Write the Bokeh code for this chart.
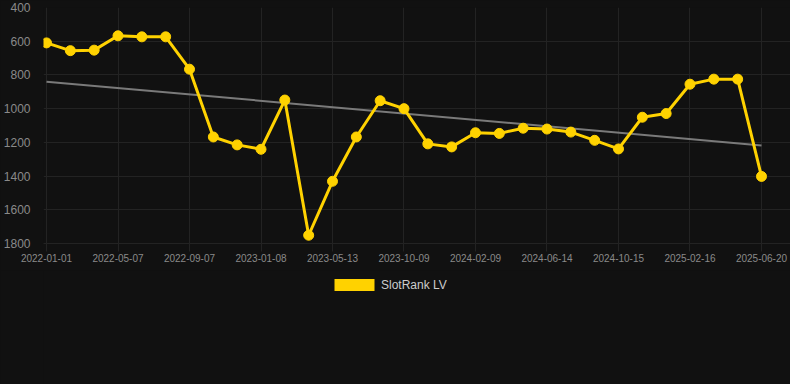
from bokeh.plotting import figure
from bokeh.layouts import column
from bokeh.models import Range1d, FixedTicker, Legend, LegendItem, ColumnDataSource
from bokeh.embed import file_html
from bokeh.resources import INLINE

# ---- data ----
tick_labels = ["2022-01-01", "2022-05-07", "2022-09-07", "2023-01-08", "2023-05-13",
               "2023-10-09", "2024-02-09", "2024-06-14", "2024-10-15", "2025-02-16",
               "2025-06-20"]
tick_positions = [0, 3, 6, 9, 12, 15, 18, 21, 24, 27, 30]
point_index = [0, 1, 2, 3, 4, 5, 6, 7, 8, 9, 10, 11, 12, 13, 14, 15, 16, 17, 18, 19,
               20, 21, 22, 23, 24, 25, 26, 27, 28, 29, 30]
rank_lv = [610, 656, 653, 568, 574, 574, 766, 1168, 1215, 1241, 949, 1751, 1431, 1168,
           953, 1000, 1209, 1227, 1143, 1147, 1116, 1121, 1139, 1188, 1239, 1051, 1029,
           855, 825, 825, 1402]
trend_index = [0, 30]
trend_values = [840, 1218]
y_ticks = [400, 600, 800, 1000, 1200, 1400, 1600, 1800]
series_name = "SlotRank LV"

BG = "#111111"
GOLD = "#FFD200"
GRID = "#232323"
LABEL = "#8a8a8a"
FONT = "Liberation Sans"

p = figure(width=790, height=270, output_backend="svg", toolbar_location=None,
           x_range=Range1d(-0.126, 31.217), y_range=Range1d(1800, 400),
           min_border_left=43, min_border_right=0, min_border_top=7, min_border_bottom=27)
p.background_fill_color = BG
p.border_fill_color = BG
p.outline_line_color = None

# axes
p.xaxis.ticker = FixedTicker(ticks=tick_positions)
p.xaxis.major_label_overrides = {t: l for t, l in zip(tick_positions, tick_labels)}
p.xaxis.major_tick_out = 8
p.xaxis.major_tick_in = 0
p.xaxis.major_tick_line_color = GRID
p.xaxis.minor_tick_line_color = None
p.xaxis.axis_line_color = GRID
p.xaxis.major_label_standoff = 2
p.xaxis.major_label_text_font_size = "10px"
p.xaxis.major_label_text_color = LABEL
p.xaxis.major_label_text_font = FONT

p.yaxis.ticker = FixedTicker(ticks=y_ticks)
p.yaxis.major_tick_line_color = None
p.yaxis.minor_tick_line_color = None
p.yaxis.axis_line_color = None
p.yaxis.major_label_standoff = 7
p.yaxis.major_label_text_font_size = "12px"
p.yaxis.major_label_text_color = LABEL
p.yaxis.major_label_text_font = FONT

p.xgrid.grid_line_color = GRID
p.ygrid.grid_line_color = GRID

# trend
p.line(trend_index, trend_values, line_color="#7a7a7a", line_width=2)

# series
src = ColumnDataSource(dict(x=point_index, y=rank_lv))
p.line("x", "y", source=src, line_color=GOLD, line_width=3)
p.scatter("x", "y", source=src, size=10, fill_color=GOLD, line_color=GOLD)

# legend strip below the chart
p2 = figure(width=790, height=114, output_backend="svg", toolbar_location=None,
            x_range=Range1d(0, 1), y_range=Range1d(0, 1),
            x_axis_location=None, y_axis_location=None,
            min_border_left=43, min_border_right=0, min_border_top=0, min_border_bottom=0)
p2.background_fill_color = BG
p2.border_fill_color = BG
p2.outline_line_color = None
p2.grid.visible = False
# off-screen helper glyph: only used to draw the legend swatch
swatch_src = ColumnDataSource(dict(l=[5], r=[6], b=[5], t=[6]))
dummy = p2.quad(left="l", right="r", bottom="b", top="t", source=swatch_src,
                fill_color=GOLD, line_color=None)
legend = Legend(items=[LegendItem(label=series_name, renderers=[dummy])],
                location=(286, 92), orientation="horizontal",
                glyph_width=50, glyph_height=15, label_height=15, label_standoff=2,
                padding=0, margin=0, spacing=0,
                background_fill_alpha=0, border_line_color=None,
                label_text_font_size="12px", label_text_color="#cccccc",
                label_text_font=FONT)
p2.add_layout(legend, "center")

layout = column(p, p2, spacing=0)
layout.styles = {"position": "absolute", "top": "0px", "left": "0px",
                 "background-color": BG}

open("out.html", "w").write(file_html(layout, INLINE))
